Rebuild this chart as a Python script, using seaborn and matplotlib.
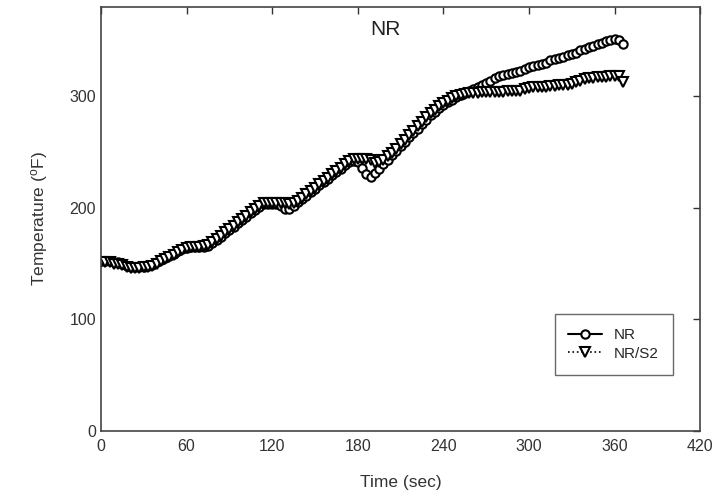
import matplotlib
matplotlib.use("Agg")
import matplotlib.pyplot as plt
import seaborn as sns

# time grid (sec), one reading every 3 s
time_sec = list(range(0, 367, 3))

# NR temperature (F)
temp_nr = [
    152, 152, 152, 151, 151, 150,
    148, 147, 147, 147, 147, 148, 149,
    151, 153, 155, 157, 159, 161, 163, 164,
    165, 165, 165, 165, 166,
    168, 171, 174, 177, 180, 183, 186, 189, 192, 195, 198, 201,
    203, 203, 203, 203, 202, 199,
    199, 202, 205, 208, 211, 214, 217, 220, 223, 226, 229, 232, 235, 238, 241,
    242, 241, 236, 230, 228,
    231, 235, 239, 243, 247, 251, 255, 259, 263, 267, 271, 275, 279, 283, 286,
    289, 292, 295, 297, 299, 301, 303, 305,
    306, 308, 310, 312, 314, 316, 318, 319, 320, 321, 322, 323,
    324, 326, 327, 328, 329, 330, 332, 333, 334, 335, 337, 338,
    339, 341, 342, 344, 345, 347, 348, 349, 350, 351, 350, 347,
]

# NR/S2 temperature (F)
temp_s2 = [
    151, 151, 151, 150, 150, 149,
    147, 146, 146, 146, 147, 147, 148,
    150, 152, 154, 156, 158, 160, 162, 164,
    165, 165, 165, 166, 167,
    169, 172, 175, 178, 181, 184, 187, 190, 193, 196, 199, 202,
    204, 204, 204, 204, 204, 204,
    203, 204, 206, 209, 212, 215, 218, 221, 224, 227, 230, 233, 236, 239, 242,
    244, 244, 244, 244, 243,
    240, 241, 243, 246, 249, 253, 257, 261, 265, 269, 273, 277, 281, 285, 288,
    291, 294, 296, 298, 300, 301, 302, 303,
    303, 303, 304, 304, 304, 304, 304, 304, 305, 305, 305, 305,
    306, 307, 308, 308, 308, 308, 309, 309, 310, 310, 310, 311,
    313, 314, 315, 316, 316, 317, 317, 317, 318, 318, 318, 313,
]

x_ticks = [0, 60, 120, 180, 240, 300, 360, 420]
y_ticks = [0, 100, 200, 300]

sns.set_style("white")
plt.rcParams['font.family'] = ['Liberation Sans', 'DejaVu Sans']
plt.rcParams['mathtext.default'] = 'regular'

fig = plt.figure(figsize=(7.16, 4.92), dpi=100)
ax = fig.add_axes([0.141, 0.124, 0.837, 0.862])

sns.lineplot(x=time_sec, y=temp_nr, ax=ax, color='black', linestyle='-', lw=1.5,
             marker='o', markersize=6, markerfacecolor='white',
             markeredgecolor='black', markeredgewidth=1.5, label='NR')
sns.lineplot(x=time_sec, y=temp_s2, ax=ax, color='black', linestyle=':', lw=1.2,
             marker='v', markersize=6.5, markerfacecolor='white',
             markeredgecolor='black', markeredgewidth=1.5, label='NR/S2')

ax.set_xlim(0, 420)
ax.set_ylim(0, 380)
ax.set_xticks(x_ticks)
ax.set_yticks(y_ticks)
ax.tick_params(direction='in', length=5, width=1, colors='#333333',
               labelsize=11.5, top=True, right=True, labelcolor='#333333')
ax.tick_params(axis='x', pad=6)
for sp in ax.spines.values():
    sp.set_color('#444444')
    sp.set_linewidth(1.2)

ax.set_xlabel('Time (sec)', fontsize=12.5, color='#333333', labelpad=15)
ax.set_ylabel('Temperature ($^{o}$F)', fontsize=12.5, color='#333333', labelpad=14)
ax.text(0.475, 0.946, 'NR', transform=ax.transAxes, ha='center', va='center',
        fontsize=15, color='#222222')

leg = ax.legend(loc='lower right', bbox_to_anchor=(0.967, 0.115), fontsize=11,
                frameon=True, fancybox=False, handlelength=2.2, borderpad=0.9,
                labelspacing=0.3)
leg.get_frame().set_edgecolor('#444444')
leg.get_frame().set_linewidth(1.0)

fig.savefig('out.png', dpi=100)
